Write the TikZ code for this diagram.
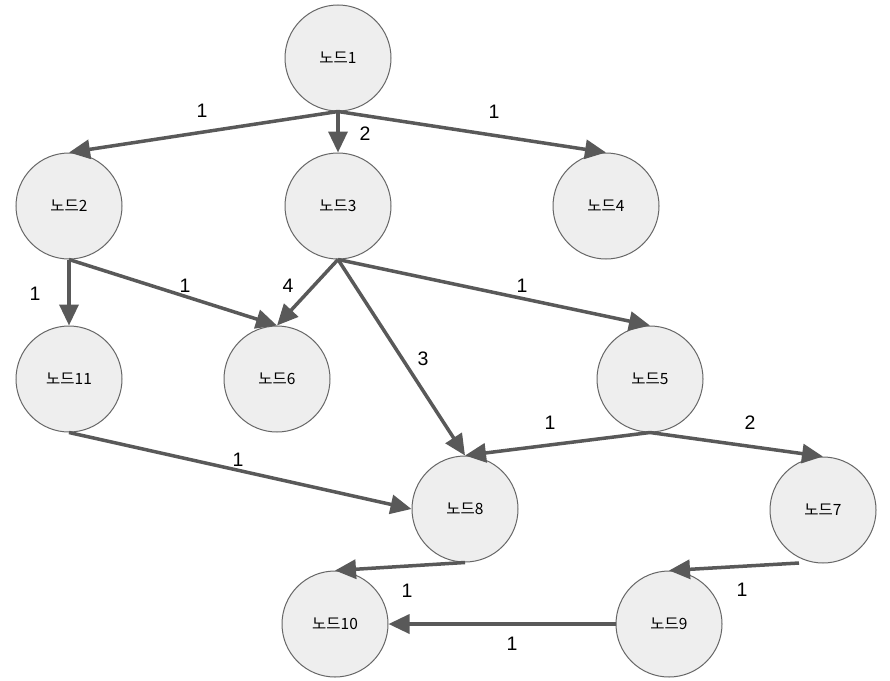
\documentclass[tikz,border=0pt]{standalone}
\usepackage{fontspec}
\setmainfont{Liberation Sans}
\newfontfamily\krfont{Noto Sans CJK KR}
\usetikzlibrary{arrows.meta}
\definecolor{nodefill}{HTML}{EEEEEE}
\definecolor{nodeline}{HTML}{666666}
\definecolor{edgecol}{HTML}{595959}
\begin{document}
\begin{tikzpicture}[x=1pt,y=-1pt,
  gnode/.style={circle,draw=nodeline,fill=nodefill,line width=1pt,minimum size=106pt,inner sep=0pt,
    font=\krfont\fontsize{15.5}{18}\selectfont},
  edge/.style={draw=edgecol,line width=3.5pt,-{Triangle[length=21pt,width=19pt]}},
  wlab/.style={font=\fontsize{19.5}{22}\selectfont}]
\useasboundingbox (0,0) rectangle (890,680);
\node[gnode] (n1) at (338,58) {노드1};
\node[gnode] (n2) at (69,206) {노드2};
\node[gnode] (n3) at (338,206) {노드3};
\node[gnode] (n4) at (606,206) {노드4};
\node[gnode] (n11) at (69,379) {노드11};
\node[gnode] (n6) at (277,379) {노드6};
\node[gnode] (n5) at (650,379) {노드5};
\node[gnode] (n8) at (465,509) {노드8};
\node[gnode] (n7) at (823,510) {노드7};
\node[gnode] (n10) at (335,624) {노드10};
\node[gnode] (n9) at (669,624) {노드9};
\coordinate (n7s) at (799,563);
\draw[edge] (n1.south) -- (n2.north);
\draw[edge] (n1.south) -- (n3.north);
\draw[edge] (n1.south) -- (n4.north);
\draw[edge] (n2.south) -- (n11.north);
\draw[edge] (n2.south) -- (n6.north);
\draw[edge] (n3.south) -- (n6.north);
\draw[edge] (n3.south) -- (n5.north);
\draw[edge] (n3.south) -- (n8.north);
\draw[edge] (n5.south) -- (n8.north);
\draw[edge] (n5.south) -- (n7.north);
\draw[edge] (n11.south) -- (n8.west);
\draw[edge] (n8.south) -- (n10.north);
\draw[edge] (n7s) -- (n9.north);
\draw[edge] (n9.west) -- (n10.east);
\node[wlab] (l12) at (202,111) {1};
\node[wlab] (l13) at (365,134) {2};
\node[wlab] (l14) at (494,112) {1};
\node[wlab] (l211) at (35,294) {1};
\node[wlab] (l26) at (185,286) {1};
\node[wlab] (l36) at (288,286) {4};
\node[wlab] (l35) at (522,286) {1};
\node[wlab] (l38) at (423,359) {3};
\node[wlab] (l58) at (550,423) {1};
\node[wlab] (l57) at (750,423) {2};
\node[wlab] (l118) at (238,460) {1};
\node[wlab] (l810) at (407,591) {1};
\node[wlab] (l79) at (742,590) {1};
\node[wlab] (l910) at (512,644) {1};
\end{tikzpicture}
\end{document}
